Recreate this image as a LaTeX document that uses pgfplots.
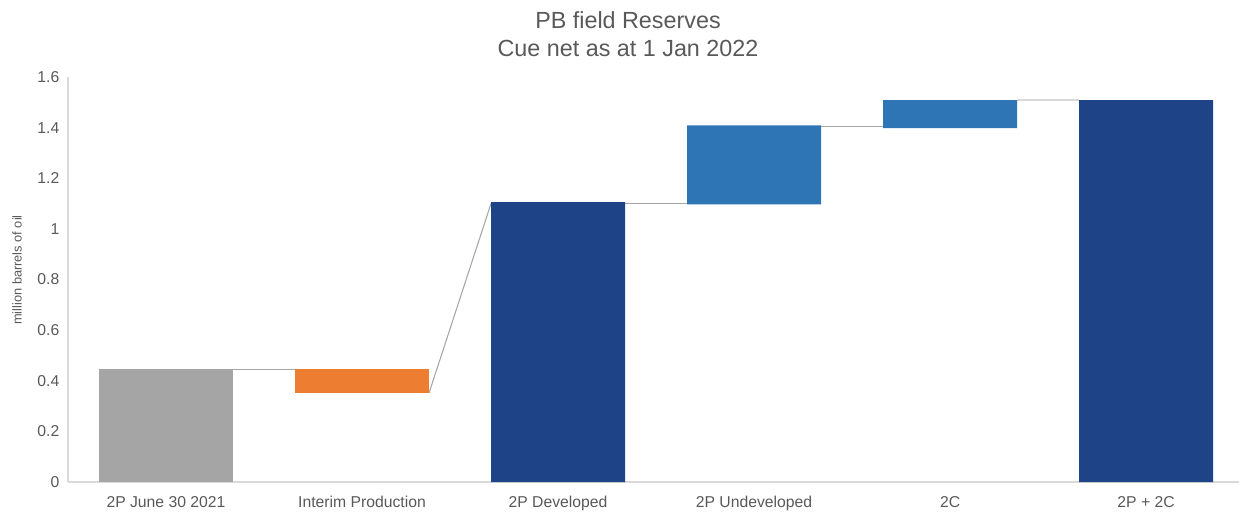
\documentclass[border=0pt]{standalone}
\usepackage{fontspec}
\setmainfont{Liberation Sans}
\usepackage{pgfplots}
\usepackage{pgfplotstable}
\pgfplotsset{compat=1.18}

\definecolor{txt}{HTML}{595959}
\definecolor{axln}{HTML}{D9D9D9}
\definecolor{cgrey}{HTML}{A5A5A5}
\definecolor{corange}{HTML}{ED7D31}
\definecolor{cdark}{HTML}{1E4387}
\definecolor{cmid}{HTML}{2E75B6}
\definecolor{conn}{HTML}{A6A6A6}

% waterfall: invisible base + one column per colour
\pgfplotstableread{
x base  grey  orange dark  mid
0 0     0.448 0      0     0
1 0.352 0     0.096  0     0
2 0     0     0      1.106 0
3 1.097 0     0      0     0.312
4 1.398 0     0      0     0.111
5 0     0     0      1.509 0
}\reserves

\pgfplotsset{wfbase/.style={
    width=878.25pt, height=303.75pt, scale only axis,
    xmin=-0.5, xmax=5.474, ymin=0, ymax=1.6}}

\begin{document}
\begin{tikzpicture}
\useasboundingbox (-51pt,-21.75pt) rectangle (878.25pt,361.5pt);

% connector lines
\begin{axis}[wfbase, hide axis]
    \addplot[conn, line width=0.8pt] coordinates {(0.342,0.446) (0.658,0.446)};
    \addplot[conn, line width=0.8pt] coordinates {(1.342,0.352) (1.658,1.100)};
    \addplot[conn, line width=0.8pt] coordinates {(2.342,1.100) (2.658,1.100)};
    \addplot[conn, line width=0.8pt] coordinates {(3.342,1.405) (3.658,1.405)};
    \addplot[axln, line width=0.8pt] coordinates {(4.342,1.509) (4.658,1.509)};
\end{axis}

\begin{axis}[
        wfbase,
        ybar stacked,
        bar width=0.684,
        axis x line=bottom,
        axis y line=left,
        axis line style={axln, line width=1pt, -},
        major tick length=0pt,
        xtick={0,1,2,3,4,5},
        xticklabels={2P June 30 2021, Interim Production, 2P Developed,
            2P Undeveloped, 2C, 2P + 2C},
        ytick={0,0.2,0.4,0.6,0.8,1,1.2,1.4,1.6},
        /pgf/number format/assume math mode=true,
        tick label style={font=\fontsize{11.8}{13}\selectfont, text=txt},
        yticklabel style={xshift=-3pt},
        xticklabel style={yshift=-7pt},
    ]
    \addplot[draw=none, fill=none] table[x=x, y=base] {\reserves};
    \addplot[draw=none, fill=cgrey] table[x=x, y=grey] {\reserves};
    \addplot[draw=none, fill=corange] table[x=x, y=orange] {\reserves};
    \addplot[draw=none, fill=cdark] table[x=x, y=dark] {\reserves};
    \addplot[draw=none, fill=cmid] table[x=x, y=mid] {\reserves};
\end{axis}

\node[text=txt, font=\fontsize{17.5}{21}\selectfont] at (420pt,346.5pt) {PB field Reserves};
\node[text=txt, font=\fontsize{17.5}{21}\selectfont] at (420pt,325.5pt) {Cue net as at 1 Jan 2022};
\node[text=txt, rotate=90, font=\fontsize{9.6}{11}\selectfont] at (-38.25pt,159pt) {million barrels of oil};
\end{tikzpicture}
\end{document}
